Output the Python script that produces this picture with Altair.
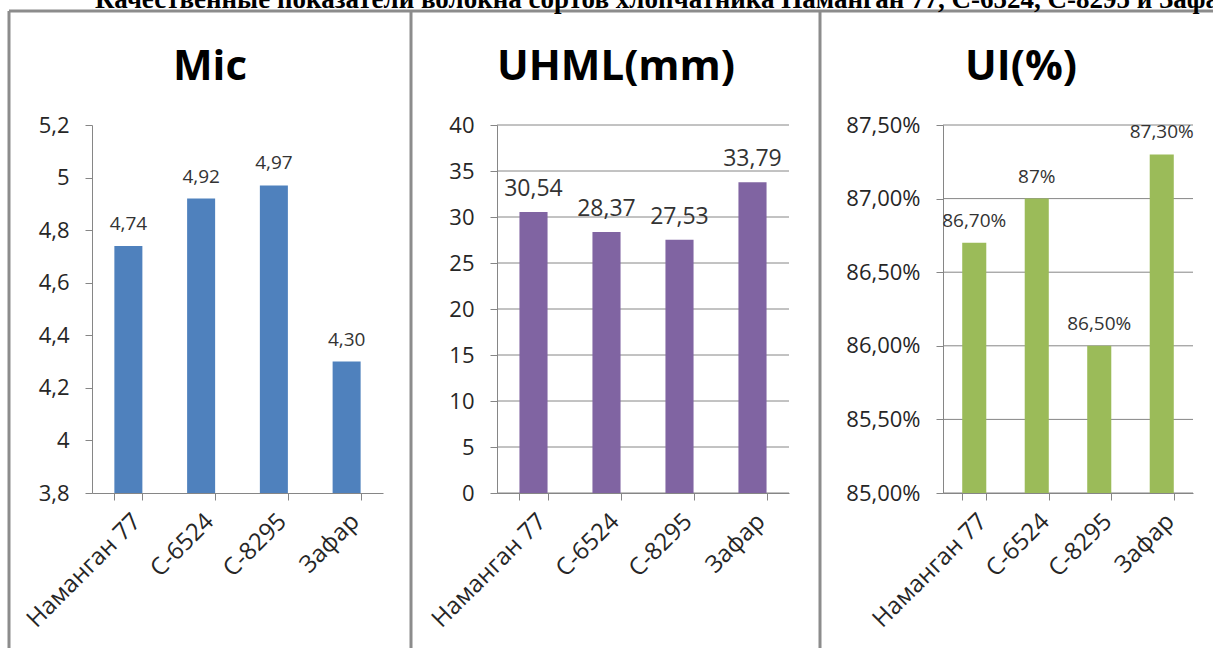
import altair as alt
import pandas as pd

# ---------------- data ----------------
varieties = ["Наманган 77", "С-6524", "С-8295", "Зафар"]

mic_values = [4.74, 4.92, 4.97, 4.30]
mic_labels = ["4,74", "4,92", "4,97", "4,30"]
mic_ticks = [3.8, 4.0, 4.2, 4.4, 4.6, 4.8, 5.0, 5.2]

uhml_values = [30.54, 28.37, 27.53, 33.79]
uhml_labels = ["30,54", "28,37", "27,53", "33,79"]
uhml_ticks = [0, 5, 10, 15, 20, 25, 30, 35, 40]

ui_values = [86.70, 87.00, 86.00, 87.30]
ui_labels = ["86,70%", "87%", "86,50%", "87,30%"]
ui_ticks = [85.0, 85.5, 86.0, 86.5, 87.0, 87.5]

panel_titles = ["Mic", "UHML(mm)", "UI(%)"]
page_title = "Качественные показатели волокна сортов хлопчатника Наманган 77, С-6524, С-8295 и Зафар"

# ---------------- layout constants ----------------
W, H = 1213, 648
Y_TOP, Y_BOT = 125, 493
FONT = "Open Sans"
AXIS_GRAY = "#868686"
BORDER_GRAY = "#8c8c8c"
LABEL_COLOR = "#262626"
one_row = alt.Data(values=[{}])


def panel(values, labels, ticks, color, x_range, label_expr, grid, data_size):
    df = pd.DataFrame({"variety": varieties, "value": values, "label": labels})
    x_enc = alt.X(
        "variety:N", sort=varieties, title=None,
        scale=alt.Scale(range=x_range, paddingInner=0.615, paddingOuter=0.3075),
        axis=alt.Axis(
            orient="bottom", offset=-(H - Y_BOT), labelAngle=315,
            labelAlign="right", labelBaseline="top", labelPadding=9,
            tickBand="extent", tickSize=7, tickColor=AXIS_GRAY,
            domainColor=AXIS_GRAY, labelFont=FONT, labelFontSize=24,
            labelColor=LABEL_COLOR, grid=False,
        ),
    )
    y_enc = alt.Y(
        "value:Q", title=None,
        scale=alt.Scale(domain=[ticks[0], ticks[-1]], range=[Y_BOT, Y_TOP],
                        zero=False, nice=False),
        axis=alt.Axis(
            orient="left", offset=-x_range[0], values=ticks, labelExpr=label_expr,
            tickSize=7, tickColor=AXIS_GRAY, domainColor=AXIS_GRAY,
            labelFont=FONT, labelFontSize=22, labelColor=LABEL_COLOR,
            labelPadding=16, grid=False,
        ),
    )
    layers = []
    if grid:
        tdf = pd.DataFrame({"value": ticks})
        layers.append(
            alt.Chart(tdf).mark_rule(color=AXIS_GRAY, strokeWidth=1).encode(
                y=y_enc, x=alt.value(x_range[0]), x2=alt.value(x_range[1])
            )
        )
    layers.append(
        alt.Chart(df).mark_bar(color=color).encode(
            x=x_enc, y=y_enc, y2=alt.datum(ticks[0])
        )
    )
    layers.append(
        alt.Chart(df).mark_text(
            dy=-16, baseline="alphabetic", align="center", font=FONT,
            fontSize=data_size, color="#333333",
        ).encode(x=x_enc, y=y_enc, text="label:N")
    )
    return alt.layer(*layers)


mic_panel = panel(mic_values, mic_labels, mic_ticks, "#4F81BD", [92, 383],
                  "replace(format(datum.value, '.1~f'), '.', ',')", False, 19)
uhml_panel = panel(uhml_values, uhml_labels, uhml_ticks, "#8064A2", [497, 789],
                   "format(datum.value, 'd')", True, 23)
ui_panel = panel(ui_values, ui_labels, ui_ticks, "#9BBB59", [943, 1193],
                 "replace(format(datum.value, '.2f'), '.', ',') + '%'", True, 19)

# ---------------- decoration ----------------
decor = []
for xv in [9, 411, 820]:
    decor.append(
        alt.Chart(one_row).mark_rule(color=BORDER_GRAY, strokeWidth=3).encode(
            x=alt.value(xv), y=alt.value(11), y2=alt.value(H)
        )
    )
decor.append(
    alt.Chart(one_row).mark_rule(color=BORDER_GRAY, strokeWidth=3).encode(
        y=alt.value(11), x=alt.value(9), x2=alt.value(W)
    )
)
for t, cx in zip(panel_titles, [210, 616, 1021]):
    decor.append(
        alt.Chart(one_row).mark_text(
            text=t, font=FONT, fontSize=42, fontWeight="bold", color="#000000",
            align="center", baseline="alphabetic",
        ).encode(x=alt.value(cx), y=alt.value(80))
    )
decor.append(
    alt.Chart(one_row).mark_text(
        text=page_title, font="Liberation Serif", fontSize=27, fontWeight="bold",
        color="#000000", align="left", baseline="alphabetic",
    ).encode(x=alt.value(95), y=alt.value(8))
)

chart = (
    alt.layer(*decor, mic_panel, uhml_panel, ui_panel)
    .resolve_scale(x="independent", y="independent")
    .properties(width=W, height=H, autosize=alt.AutoSizeParams(type="none"),
                padding=0, background="white")
    .configure_view(stroke=None)
)

chart.save("out.html", embed_options={"renderer": "svg", "actions": False})
